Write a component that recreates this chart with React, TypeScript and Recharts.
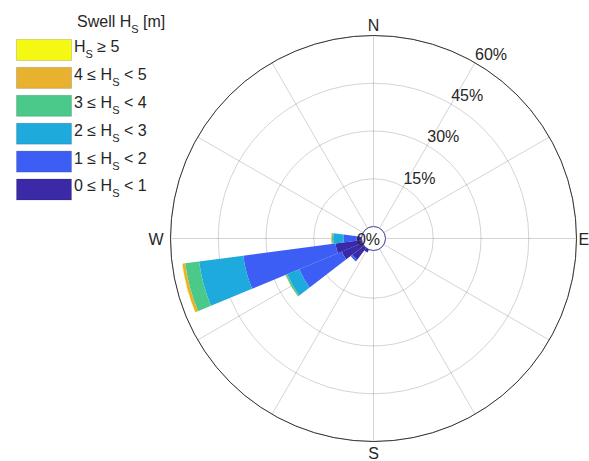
import React from 'react';
import {
  RadialBarChart,
  RadialBar,
  PolarAngleAxis,
  PolarRadiusAxis,
  PolarGrid,
  Legend,
} from 'recharts';

// ---- data -------------------------------------------------------------
// direction bins (degrees from north, clockwise), 15 degree sectors
const directions = [0, 15, 30, 45, 60, 75, 90, 105, 120, 135, 150, 165, 180, 195, 210, 225, 240, 255, 270, 285, 300, 315, 330, 345];

// frequency (%) per direction for each swell height class
const hs0to1 = [0, 0, 0, 0, 0, 0, 0, 0, 0, 0, 0, 0, 0, 0, 1.0, 4.6, 7.0, 8.3, 1.5, 0, 0, 0, 0, 0];
const hs1to2 = [0, 0, 0, 0, 0, 0, 0, 0, 0, 0, 0, 0, 0, 0, 0, 0.7, 14.5, 29.2, 4.2, 0, 0, 0, 0, 0];
const hs2to3 = [0, 0, 0, 0, 0, 0, 0, 0, 0, 0, 0, 0, 0, 0, 0, 0, 4.1, 14.0, 3.2, 0, 0, 0, 0, 0];
const hs3to4 = [0, 0, 0, 0, 0, 0, 0, 0, 0, 0, 0, 0, 0, 0, 0, 0, 0.5, 4.4, 0.4, 0, 0, 0, 0, 0];
const hs4to5 = [0, 0, 0, 0, 0, 0, 0, 0, 0, 0, 0, 0, 0, 0, 0, 0, 0.1, 0.9, 0.2, 0, 0, 0, 0, 0];
const hs5up = [0, 0, 0, 0, 0, 0, 0, 0, 0, 0, 0, 0, 0, 0, 0, 0, 0, 0.1, 0, 0, 0, 0, 0, 0];

const seriesKeys = ['h0', 'h1', 'h2', 'h3', 'h4', 'h5'];
const seriesValues = [hs0to1, hs1to2, hs2to3, hs3to4, hs4to5, hs5up];
const binLower = [0, 1, 2, 3, 4, 5];
const seriesColors = ['#3b2aa8', '#3d5ef4', '#1eaadd', '#4bc98b', '#e8b130', '#f5f812'];

const radiusTicks = [0, 15, 30, 45, 60];
const cardinalLabels: Record<number, string> = { 0: 'N', 90: 'E', 180: 'S', 270: 'W' };
const legendTitle = 'Swell H';
const legendSub = 'S';
const legendUnit = ' [m]';

const data = directions.map((dir, i) => {
  const row: Record<string, number> = { dir };
  seriesKeys.forEach((k, s) => {
    row[k] = seriesValues[s][i];
  });
  return row;
});

// ---- layout -------------------------------------------------------------
const W = 589;
const H = 461;
const CX = 373.5;
const CY = 238.5;
const INNER = 12;
const OUTER = 203;
const HALF_SECTOR = 360 / directions.length / 2;
const START = 90 - HALF_SECTOR;
const END = START - 360;
const FONT = '"Liberation Sans", Arial, Helvetica, sans-serif';
const TEXT = '#262626';
const SPOKES = Array.from({ length: 12 }, (_, i) => 90 - i * 30);

const AngleTick = (props: any) => {
  const { payload } = props;
  const label = cardinalLabels[payload.value];
  if (!label) return <g />;
  const a = ((payload.coordinate + HALF_SECTOR) * Math.PI) / 180;
  const ux = Math.cos(a);
  const uy = -Math.sin(a);
  const gap = ux < -0.5 ? 7 : ux > 0.5 ? 2 : 5;
  const x = CX + (OUTER + gap) * ux;
  const y = CY + (OUTER + gap) * uy;
  const anchor = ux > 0.5 ? 'start' : ux < -0.5 ? 'end' : 'middle';
  const dy = uy < -0.5 ? 0 : uy > 0.5 ? 12 : 6;
  return (
    <text x={x} y={y} dy={dy} textAnchor={anchor} fontSize={16} fontFamily={FONT} fill={TEXT}>
      {label}
    </text>
  );
};

const RadiusTick = (props: any) => {
  const { x, y, payload } = props;
  if (payload.value === 0) {
    return (
      <text x={CX} y={CY} dx={-5} dy={6} textAnchor="middle" fontSize={16} fontFamily={FONT} fill={TEXT}>
        0%
      </text>
    );
  }
  return (
    <text x={x} y={y} dy={-3} textAnchor="start" fontSize={16} fontFamily={FONT} fill={TEXT}>
      {`${payload.value}%`}
    </text>
  );
};

const LegendContent = () => {
  const rows = seriesKeys.map((_, s) => seriesKeys.length - 1 - s);
  return (
    <svg width={180} height={210} style={{ display: 'block', overflow: 'visible' }}>
      <text x={77} y={26.5} fontSize={16} fontFamily={FONT} fill={TEXT}>
        {legendTitle}
        <tspan dy={6} fontSize={11}>{legendSub}</tspan>
        <tspan dy={-6}>{legendUnit}</tspan>
      </text>
      {rows.map((s, row) => {
        const top = 39.5 + row * 27.9;
        const isLast = s === seriesKeys.length - 1;
        return (
          <g key={s}>
            <rect x={16.5} y={top} width={55} height={21} fill={seriesColors[s]} stroke="#000" strokeOpacity={0.15} />
            <text x={74} y={top + 12.4} fontSize={16} fontFamily={FONT} fill={TEXT}>
              {isLast ? (
                <>
                  H<tspan dy={6} fontSize={11}>S</tspan>
                  <tspan dy={-6}>{` \u2265 ${binLower[s]}`}</tspan>
                </>
              ) : (
                <>
                  {`${binLower[s]} \u2264 H`}
                  <tspan dy={6} fontSize={11}>S</tspan>
                  <tspan dy={-6}>{` < ${binLower[s + 1]}`}</tspan>
                </>
              )}
            </text>
          </g>
        );
      })}
    </svg>
  );
};

export default function App() {
  return (
    <div style={{ position: 'absolute', left: 0, top: 0, width: W, height: H, background: '#fff' }}>
      <RadialBarChart
        width={W}
        height={H}
        data={data}
        layout="centric"
        cx={CX}
        cy={CY}
        innerRadius={INNER}
        outerRadius={OUTER}
        startAngle={START}
        endAngle={END}
        barCategoryGap={0}
        barGap={0}
        margin={{ top: 0, right: 0, bottom: 0, left: 0 }}
      >
        <PolarAngleAxis type="category" dataKey="dir" tick={AngleTick} tickLine={false} axisLine={false} />
        <PolarRadiusAxis
          type="number"
          domain={[0, 60]}
          ticks={radiusTicks}
          angle={60}
          tick={RadiusTick}
          tickLine={false}
          axisLine={false}
        />
        {seriesKeys.map((k, s) => (
          <RadialBar
            key={k}
            dataKey={k}
            name={k}
            stackId="rose"
            fill={seriesColors[s]}
            isAnimationActive={false}
          />
        ))}
        <PolarGrid
          gridType="circle"
          polarAngles={SPOKES}
          stroke="#262626"
          strokeOpacity={0.2}
        />
        <PolarGrid gridType="circle" polarRadius={[OUTER]} radialLines={false} stroke="#333" strokeOpacity={1} />
        <PolarGrid gridType="circle" polarRadius={[INNER]} radialLines={false} stroke="#4a4aa8" strokeOpacity={1} />
        <Legend
          layout="horizontal"
          verticalAlign="middle"
          align="center"
          wrapperStyle={{ left: 0, top: 0, width: 180, height: 210, margin: 0, padding: 0 }}
          content={LegendContent}
        />
      </RadialBarChart>
    </div>
  );
}
